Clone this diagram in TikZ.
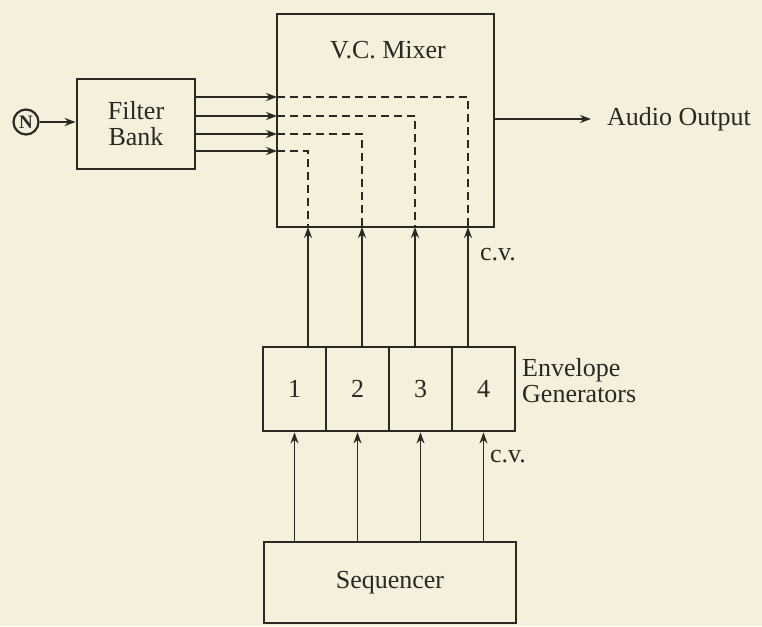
\documentclass[tikz,border=0pt]{standalone}
\usepackage{fontspec}
\setmainfont{Liberation Serif}
\usetikzlibrary{arrows.meta}
\definecolor{paper}{HTML}{F4F0DC}
\definecolor{ink}{HTML}{2B2723}
\begin{document}
\begin{tikzpicture}[x=1pt,y=-1pt,
  box/.style={draw=ink, line width=2.8pt, inner sep=0pt, text=ink, align=center,
              font=\fontsize{26}{26}\selectfont},
  lbl/.style={text=ink, inner sep=0pt, font=\fontsize{26}{26}\selectfont},
  sig/.style={draw=ink, line width=2.2pt, -{Stealth[length=11pt,width=8pt]}},
  thinsig/.style={draw=ink, line width=1.7pt, -{Stealth[length=11pt,width=8pt]}},
  dashline/.style={draw=ink, line width=2.2pt, dash pattern=on 8pt off 5pt}]
\fill[paper] (0,0) rectangle (762,626);
\useasboundingbox (0,0) rectangle (762,626);

% noise source and filter bank
\node[draw=ink, circle, line width=2.2pt, minimum size=25pt, inner sep=0pt, text=ink,
      font=\fontsize{19}{19}\selectfont\bfseries] (n) at (26,122) {N};
\node[box, minimum width=118pt, minimum height=90pt] (fb) at (136,124) {Filter\\Bank};
\draw[sig] (n.east) -- (n.east -| fb.west);

% mixer
\node[box, minimum width=217pt, minimum height=213pt] (mix) at (385.5,120.5) {};
\node[lbl] (mixlabel) at (388,50) {V.C. Mixer};

\coordinate (m1) at (277,97);
\coordinate (m2) at (277,116);
\coordinate (m3) at (277,134);
\coordinate (m4) at (277,151);
\coordinate (b1) at (468,227);
\coordinate (b2) at (415,227);
\coordinate (b3) at (362,227);
\coordinate (b4) at (308,227);

\foreach \i in {1,2,3,4}{
  \draw[sig] (fb.east |- m\i) -- (m\i);
  \draw[dashline] (m\i) -| (b\i);
}

% audio output
\node[lbl, anchor=west] (ao) at (607,119) {Audio Output};
\draw[sig] (mix.east |- ao.west) -- ([xshift=-16pt]ao.west);

% envelope generators
\node[box, minimum width=63pt, minimum height=84pt] (e1) at (294.5,389) {1};
\node[box, minimum width=63pt, minimum height=84pt] (e2) at (357.5,389) {2};
\node[box, minimum width=63pt, minimum height=84pt] (e3) at (420.5,389) {3};
\node[box, minimum width=63pt, minimum height=84pt] (e4) at (483.5,389) {4};
\node[lbl, anchor=west, align=left] (envlabel) at (522,381) {Envelope\\Generators};

\foreach \i in {1,2,3,4}{
  \draw[sig] (b\i |- e1.north) -- (b\i);
}
\node[lbl] (cv1) at (498,255) {c.v.};

% sequencer
\node[box, minimum width=252pt, minimum height=81pt] (seq) at (390,582.5) {Sequencer};
\foreach \i in {1,2,3,4}{
  \draw[thinsig] (e\i.south |- seq.north) -- (e\i.south);
}
\node[lbl] (cv2) at (508,457) {c.v.};
\end{tikzpicture}
\end{document}
